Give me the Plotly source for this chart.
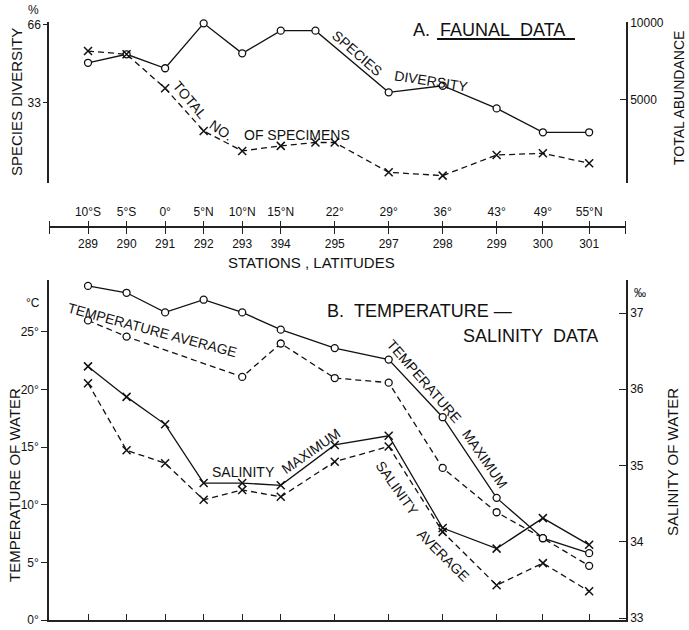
import plotly.graph_objects as go

W, H = 689, 630

# ---------------- data ----------------
stations = ["289", "290", "291", "292", "293", "394", "295", "297", "298", "299", "300", "301"]
lat_labels = ["10°S", "5°S", "0°", "5°N", "10°N", "15°N", "22°", "29°", "36°", "43°", "49°", "55°N"]
latitudes = [-10, -5, 0, 5, 10, 15, 22, 29, 36, 43, 49, 55]

# A. Faunal data
div_lat = [-10, -5, 0, 5, 10, 15, 19.5, 29, 36, 43, 49, 55]
species_diversity = [50.0, 53.6, 47.7, 66.7, 54.0, 63.6, 63.6, 37.5, 40.3, 30.7, 20.6, 20.6]

abund_lat = [-10, -5, 0, 5, 10, 15, 19.5, 22, 29, 36, 43, 49, 55]
total_abundance = [8150, 7940, 5720, 2930, 1630, 1960, 2180, 2180, 235, 20, 1365, 1475, 825]

div_ticks = [33, 66]
abund_ticks = [5000, 10000]
temp_ticks = [0, 5, 10, 15, 20, 25]
temp_tick_labels = ["0°", "5°", "10°", "15°", "20°", "25°"]
sal_ticks = [33, 34, 35, 36, 37]

# B. Temperature - salinity data
temp_max = [29.0, 28.4, 26.7, 27.8, 26.7, 25.2, 23.6, 22.6, 17.6, 10.6, 7.1, 5.8]
temp_avg = [26.0, 24.6, None, None, 21.1, 24.0, 21.0, 20.6, 13.2, 9.35, 7.1, 4.7]
sal_max = [36.30, 35.90, 35.54, 34.77, 34.77, 34.74, 35.27, 35.39, 34.18, 33.91, 34.31, 33.96]
sal_avg = [36.08, 35.20, 35.03, 34.55, 34.68, 34.59, 35.05, 35.25, 34.13, 33.43, 33.72, 33.35]

# ---------------- styling ----------------
FONT = "Liberation Sans"
INK = "#111111"
AX = "#222222"
DASH = "6px,4px"
XRANGE = [-15.06, 59.78]
XDOM = [49 / W, 626 / W]
A_DOM = [1 - 183 / H, 1 - 22 / H]
B_DOM = [1 - 620 / H, 1 - 280 / H]

circ = dict(symbol="circle", size=7, color="white", line=dict(color=INK, width=1.3))
cross = dict(symbol="x-thin", size=8, color=INK, line=dict(color=INK, width=1.5))

fig = go.Figure()

# Panel A
fig.add_trace(go.Scatter(x=div_lat, y=species_diversity, mode="lines+markers", cliponaxis=False,
                         line=dict(color=INK, width=1.3), marker=circ,
                         xaxis="x", yaxis="y", name="Species diversity"))
fig.add_trace(go.Scatter(x=abund_lat, y=total_abundance, mode="lines+markers", cliponaxis=False,
                         line=dict(color=INK, width=1.3, dash=DASH), marker=cross,
                         xaxis="x", yaxis="y2", name="Total no. of specimens"))

# station / latitude axis carriers (invisible)
fig.add_trace(go.Scatter(x=latitudes, y=[None] * len(latitudes), mode="markers",
                         xaxis="x3", yaxis="y", hoverinfo="skip", showlegend=False))
fig.add_trace(go.Scatter(x=latitudes, y=[None] * len(latitudes), mode="markers",
                         xaxis="x4", yaxis="y", hoverinfo="skip", showlegend=False))

# Panel B
fig.add_trace(go.Scatter(x=latitudes, y=temp_max, mode="lines+markers", cliponaxis=False,
                         line=dict(color=INK, width=1.3), marker=circ,
                         xaxis="x2", yaxis="y3", name="Temperature maximum"))
fig.add_trace(go.Scatter(x=latitudes, y=temp_avg, mode="lines+markers", connectgaps=True,
                         cliponaxis=False,
                         line=dict(color=INK, width=1.3, dash=DASH), marker=circ,
                         xaxis="x2", yaxis="y3", name="Temperature average"))
fig.add_trace(go.Scatter(x=latitudes, y=sal_max, mode="lines+markers", cliponaxis=False,
                         line=dict(color=INK, width=1.3), marker=cross,
                         xaxis="x2", yaxis="y4", name="Salinity maximum"))
fig.add_trace(go.Scatter(x=latitudes, y=sal_avg, mode="lines+markers", cliponaxis=False,
                         line=dict(color=INK, width=1.3, dash=DASH), marker=cross,
                         xaxis="x2", yaxis="y4", name="Salinity average"))

yax_common = dict(showline=True, linecolor=AX, linewidth=1.5, showgrid=False, zeroline=False,
                  automargin=False, tickcolor=AX, tickwidth=1.3,
                  tickfont=dict(size=12, family=FONT, color=INK))

end_ticks = [XRANGE[0] + 0.08, XRANGE[1] - 0.08]

fig.update_layout(
    width=W, height=H, margin=dict(l=0, r=0, t=0, b=0, pad=0), autosize=False,
    paper_bgcolor="white", plot_bgcolor="rgba(0,0,0,0)",
    showlegend=False, hovermode=False,
    font=dict(family=FONT, color=INK),
    xaxis=dict(domain=XDOM, range=XRANGE, visible=False, anchor="y", automargin=False),
    yaxis=dict(domain=A_DOM, range=[-0.846, 67.26], anchor="x", side="left",
               tickvals=div_ticks, ticktext=[str(v) for v in div_ticks],
               ticks="outside", ticklen=4, **yax_common),
    yaxis2=dict(range=[-463, 10045], overlaying="y", anchor="x", side="right",
                tickvals=abund_ticks, ticktext=[str(v) for v in abund_ticks],
                ticks="inside", ticklen=6, **yax_common),
    xaxis3=dict(range=XRANGE, overlaying="x", anchor="free", position=1 - 227 / H, side="bottom",
                showline=True, linecolor=AX, linewidth=1.5, showgrid=False, zeroline=False,
                automargin=False,
                tickvals=end_ticks + latitudes, ticktext=["", ""] + stations,
                ticks="outside", ticklen=6, tickcolor=AX, tickwidth=1.3,
                tickfont=dict(size=12, family=FONT, color=INK)),
    xaxis4=dict(range=XRANGE, overlaying="x", anchor="free", position=1 - 227 / H, side="top",
                showline=False, showgrid=False, zeroline=False, automargin=False,
                tickvals=end_ticks + latitudes, ticktext=["", ""] + lat_labels,
                ticks="outside", ticklen=6, tickcolor=AX, tickwidth=1.3,
                tickfont=dict(size=12, family=FONT, color=INK)),
    xaxis2=dict(domain=XDOM, range=XRANGE, anchor="y3", showline=True, linecolor=AX, linewidth=1.5,
                showgrid=False, zeroline=False, automargin=False,
                tickvals=latitudes, showticklabels=False,
                ticks="inside", ticklen=6, tickcolor=AX, tickwidth=1.3),
    yaxis3=dict(domain=B_DOM, range=[0, 29.51], anchor="x2", side="left",
                tickvals=temp_ticks, ticktext=temp_tick_labels,
                ticks="outside", ticklen=6, **yax_common),
    yaxis4=dict(range=[32.974, 37.433], overlaying="y3", anchor="x2", side="right",
                tickvals=sal_ticks, ticktext=[str(v) for v in sal_ticks],
                ticks="inside", ticklen=7, **yax_common),
)


def ann(text, x, y, size=14, angle=0, xanchor="center", yanchor="middle"):
    return dict(text=text, x=x / W, y=1 - y / H, xref="paper", yref="paper", showarrow=False,
                textangle=angle, xanchor=xanchor, yanchor=yanchor, borderpad=0,
                font=dict(size=size, family=FONT, color=INK))


NB = "\u00a0"
annotations = [
    # panel A axes
    ann("%", 33, 10, size=12),
    ann("SPECIES DIVERSITY", 17, 102, size=15, angle=-90),
    ann("TOTAL ABUNDANCE", 679, 98, size=14, angle=-90),
    ann("A." + NB + NB + "FAUNAL" + NB + NB + "DATA", 489, 30, size=18),
    # panel A line labels
    ann("SPECIES", 357, 53, size=14, angle=41),
    ann("DIVERSITY", 431, 81, size=14, angle=9),
    ann("TOTAL", 190, 100, size=14, angle=50),
    ann("NO.", 221, 130, size=14, angle=35),
    ann("OF" + NB + "SPECIMENS", 297, 135, size=14),
    # station axis title
    ann("STATIONS" + NB + "," + NB + "LATITUDES", 311, 262, size=15),
    # panel B axes
    ann("°C", 33, 303, size=12),
    ann("TEMPERATURE OF WATER", 14, 485, size=15, angle=-90),
    ann("‰", 640, 293, size=12),
    ann("SALINITY OF WATER", 673, 462, size=15, angle=-90),
    ann("B." + NB + NB + "TEMPERATURE" + NB + "—", 420, 311, size=18),
    ann("SALINITY" + NB + NB + "DATA", 530, 336, size=18),
    # panel B line labels
    ann("TEMPERATURE AVERAGE", 152, 330, size=14, angle=15),
    ann("SALINITY", 243, 472, size=14),
    ann("MAXIMUM", 311, 451, size=14, angle=-35),
    ann("TEMPERATURE", 424, 381, size=14, angle=49),
    ann("MAXIMUM", 485, 459, size=14, angle=55),
    ann("SALINITY", 397, 488, size=14, angle=55),
    ann("AVERAGE", 443, 555, size=14, angle=45),
]
fig.update_layout(annotations=annotations)

# underline of the panel A title
fig.add_shape(type="line", xref="paper", yref="paper",
              x0=437 / W, x1=575 / W, y0=1 - 39 / H, y1=1 - 39 / H,
              line=dict(color=INK, width=2))

fig.write_html("out.html", config={"displayModeBar": False},
               post_script="document.body.style.margin='0px';")
